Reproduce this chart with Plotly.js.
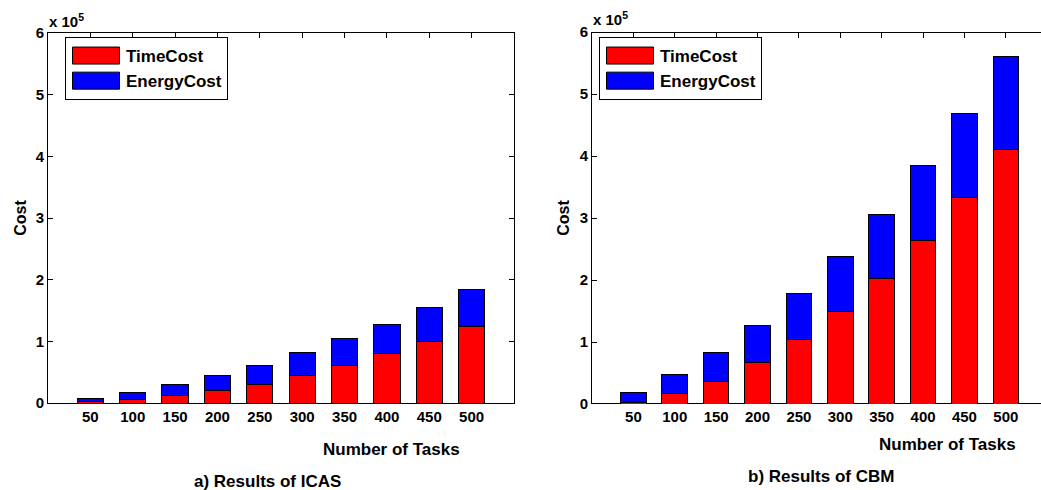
<!DOCTYPE html>
<html>
<head>
<meta charset="utf-8">
<script src="https://cdn.plot.ly/plotly-3.0.1.min.js"></script>
<style>html,body{margin:0;padding:0;background:#fff;}#chart{width:1041px;height:490px;}</style>
</head>
<body>
<div id="chart"></div>
<script>
// Number of tasks (category labels)
const tasks = ['50','100','150','200','250','300','350','400','450','500'];
// a) Results of ICAS
const icasTime   = [2000, 4900, 11800, 20500, 30800, 44800, 61000, 80000, 100500, 123700];
const icasEnergy = [6100, 12900, 18200, 24900, 30800, 36300, 42800, 48100, 54000, 60500];
// b) Results of CBM
const cbmTime    = [3200, 16600, 37100, 66600, 103600, 148800, 201900, 263700, 333600, 409700];
const cbmEnergy  = [16100, 30600, 45600, 59600, 74600, 89100, 104300, 120300, 134200, 150000];
// y tick values / labels (x 10^5)
const yTickVals = [0, 100000, 200000, 300000, 400000, 500000, 600000];
const yTickText = ['0','1','2','3','4','5','6'];

const FONT = 'Liberation Sans, Arial, Helvetica, sans-serif';
const RED = '#ff0000', BLUE = '#0000ff';
const barLine = {color: '#000', width: 1};
const BW = 0.62;

const traces = [
  {type:'bar', name:'TimeCost', x:tasks, y:icasTime, xaxis:'x', yaxis:'y', width:BW,
   marker:{color:RED, line:barLine}, legend:'legend'},
  {type:'bar', name:'EnergyCost', x:tasks, y:icasEnergy, xaxis:'x', yaxis:'y', width:BW,
   marker:{color:BLUE, line:barLine}, legend:'legend'},
  {type:'bar', name:'TimeCost', x:tasks, y:cbmTime, xaxis:'x2', yaxis:'y2', width:BW,
   marker:{color:RED, line:barLine}, legend:'legend2'},
  {type:'bar', name:'EnergyCost', x:tasks, y:cbmEnergy, xaxis:'x2', yaxis:'y2', width:BW,
   marker:{color:BLUE, line:barLine}, legend:'legend2'}
];

const tickFont = {family: FONT, size: 15, color: '#000', weight: 'bold'};
function xAxis(domain, range) {
  return {domain: domain, type:'category', range: range, showgrid:false, zeroline:false,
    showline:true, linecolor:'#000', linewidth:1, mirror:'ticks', ticks:'inside', ticklen:5,
    tickcolor:'#000', tickfont: tickFont, layer:'below traces', fixedrange:true};
}
function yAxis(domain, mirror) {
  return {domain: domain, range:[0, 600000], tickvals: yTickVals, ticktext: yTickText,
    showgrid:false, zeroline:false, showline:true, linecolor:'#000', linewidth:1,
    mirror: mirror, ticks:'inside', ticklen:5, tickcolor:'#000', tickfont: tickFont,
    fixedrange:true};
}
const legendFont = {family: FONT, size: 17, color:'#000', weight:'bold'};
function legendCfg(x, y) {
  return {x:x, y:y, xanchor:'left', yanchor:'top', bgcolor:'#fff', bordercolor:'#000',
    borderwidth:1, font: legendFont, traceorder:'normal', itemwidth:50, tracegroupgap:0};
}
const annFont = (s) => ({family: FONT, size: s, color:'#000', weight:'bold'});

const layout = {
  width:1041, height:490, margin:{l:0, r:0, t:0, b:0},
  paper_bgcolor:'#fff', plot_bgcolor:'#fff', barmode:'stack', bargap:0.37,
  xaxis: xAxis([48/1041, 514/1041], [-1, 10]),
  yaxis: Object.assign(yAxis([87/490, 457/490], 'ticks'),
    {title:{text:'Cost', font:annFont(16), standoff:5}}),
  xaxis2: xAxis([592/1041, 1], [-1, 9.85]),
  yaxis2: Object.assign(yAxis([86/490, 458/490], false),
    {anchor:'x2', title:{text:'Cost', font:annFont(16), standoff:6}}),
  legend: legendCfg(65/1041, (490-37)/490),
  legend2: legendCfg(599/1041, (490-37)/490),
  annotations: [
    {xref:'paper', yref:'paper', x:47/1041, y:(490-20)/490, xanchor:'left', yanchor:'middle',
     text:'x 10<sup>5</sup>', showarrow:false, font:annFont(15)},
    {xref:'paper', yref:'paper', x:591/1041, y:(490-18)/490, xanchor:'left', yanchor:'middle',
     text:'x 10<sup>5</sup>', showarrow:false, font:annFont(15)},
    {xref:'paper', yref:'paper', x:391.5/1041, y:(490-449)/490, xanchor:'center', yanchor:'middle',
     text:'Number of Tasks', showarrow:false, font:annFont(17)},
    {xref:'paper', yref:'paper', x:947/1041, y:(490-444)/490, xanchor:'center', yanchor:'middle',
     text:'Number of Tasks', showarrow:false, font:annFont(17)},
    {xref:'paper', yref:'paper', x:267.5/1041, y:(490-481)/490, xanchor:'center', yanchor:'middle',
     text:'a) Results of ICAS', showarrow:false, font:annFont(17)},
    {xref:'paper', yref:'paper', x:820.5/1041, y:(490-476)/490, xanchor:'center', yanchor:'middle',
     text:'b) Results of CBM', showarrow:false, font:annFont(17)}
  ]
};

function widenSwatches() {
  document.querySelectorAll('g.legendpoints path').forEach(function(p){
    p.setAttribute('d', 'M23.5,8.5H-23.5V-8.5H23.5Z');
  });
}
Plotly.newPlot('chart', traces, layout, {displayModeBar:false}).then(function(gd){
  widenSwatches();
  setTimeout(widenSwatches, 0);
  setTimeout(widenSwatches, 50);
  if (gd.on) gd.on('plotly_afterplot', widenSwatches);
});
</script>
</body>
</html>
